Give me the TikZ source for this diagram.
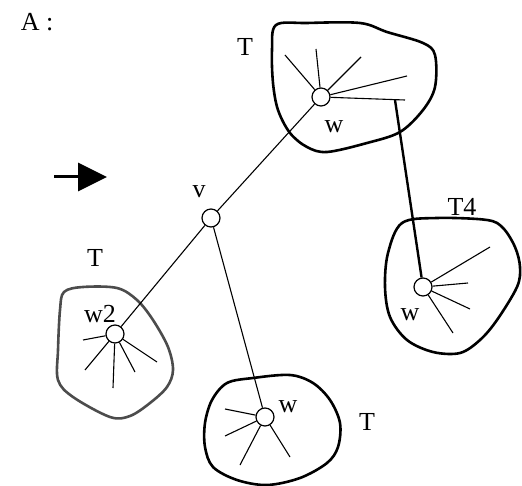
\documentclass[tikz,border=0pt]{standalone}
\usepackage{fontspec}
\setmainfont{Liberation Serif}
\usetikzlibrary{arrows.meta}
\tikzset{
  % vertices and their labels
  vtx/.style={circle, draw, line width=1.2pt, fill=white,
    minimum size=18pt, inner sep=0pt},
  lbl/.style={font=\fontsize{26}{29}\selectfont, inner sep=0pt},
  % edges of the tree
  treeedge/.style={line width=1.1pt},
  spoke/.style={line width=1.1pt},
  bridge/.style={line width=2.4pt},
  % outlines of the subtrees
  treeblob/.style={line width=2.6pt, line join=round}
}

\begin{document}
\begin{tikzpicture}[x=1pt, y=-1pt]
  \useasboundingbox (0,0) rectangle (522,486);

  % --- subtree outlines ---
  \draw[treeblob] plot[smooth cycle, tension=0.55] coordinates {
    (276,25) (307,23) (360,23) (387,32) (423,43) (435,55) (435,87)
    (423,110) (400,132) (367,143) (327,152) (307,147) (290,133)
    (278,110) (273,83) (272,50)};
  \draw[treeblob] plot[smooth cycle, tension=0.55] coordinates {
    (402,223) (437,218) (487,220) (503,228) (515,247) (520,267)
    (517,287) (497,320) (480,340) (460,353) (433,352) (407,340)
    (390,317) (385,287) (388,253)};
  \draw[treeblob, draw=black!70] plot[smooth cycle, tension=0.55] coordinates {
    (64,292) (83,287) (117,288) (137,300) (153,320) (168,347)
    (173,370) (167,387) (150,403) (130,416) (110,417) (73,397)
    (58,380) (58,350) (60,310)};
  \draw[treeblob] plot[smooth cycle, tension=0.55] coordinates {
    (212,400) (227,383) (253,378) (290,375) (313,383) (330,400)
    (340,423) (338,447) (327,463) (300,478) (267,485) (237,480)
    (213,467) (205,447) (205,423)};

  % --- vertices ---
  \node[vtx] (v) at (211,218) {};
  \node[vtx] (wtop) at (321,97) {};
  \node[vtx] (wfour) at (423,287) {};
  \node[vtx] (wtwo) at (115,334) {};
  \node[vtx] (wbot) at (265,417) {};

  % --- edges from v ---
  \draw[treeedge] (v) -- (wtop);
  \draw[treeedge] (v) -- (wtwo);
  \draw[treeedge] (v) -- (wbot);

  % --- spokes inside each subtree ---
  \foreach \p in {(285,55),(316,49),(361,57),(407,76),(405,100)}
    \draw[spoke] (wtop) -- \p;
  \foreach \p in {(490,247),(468,283),(470,309),(453,333)}
    \draw[spoke] (wfour) -- \p;
  \foreach \p in {(83,340),(85,370),(113,388),(135,372),(157,362)}
    \draw[spoke] (wtwo) -- \p;
  \foreach \p in {(225,409),(225,436),(240,465),(290,457)}
    \draw[spoke] (wbot) -- \p;

  % thick link from T to T4
  \coordinate (brk) at (395,100);
  \draw[bridge] (brk) -- (wfour);

  % --- arrow on the left ---
  \coordinate (arrtail) at (54,177);
  \coordinate (arrhead) at (107,177);
  \draw[line width=3pt, -{Triangle[length=29pt,width=28pt]}] (arrtail) -- (arrhead);

  % --- labels ---
  \node[lbl] (atitle) at (37,22) {A :};
  \node[lbl] (lv) at (199,192) {v};
  \node[lbl] (ltop) at (245,47) {T};
  \node[lbl] (lwtop) at (334,127) {w};
  \node[lbl] (lfour) at (462,207) {T4};
  \node[lbl] (lwfour) at (410,315) {w};
  \node[lbl] (ltwo) at (95,258) {T};
  \node[lbl] (lwtwo) at (100,314) {w2};
  \node[lbl] (lwbot) at (288,407) {w};
  \node[lbl] (lbot) at (367,422) {T};
\end{tikzpicture}
\end{document}
